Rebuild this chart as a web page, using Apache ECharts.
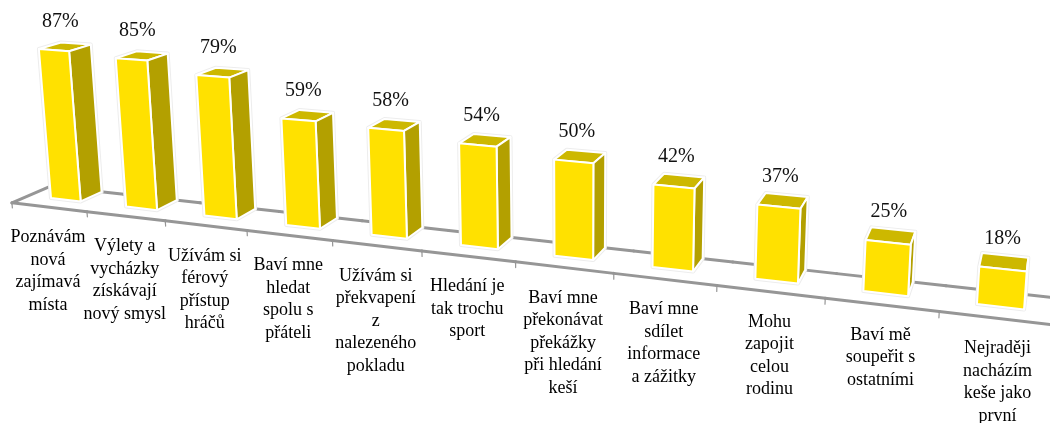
<!DOCTYPE html>
<html>
<head>
<meta charset="utf-8">
<title>Motivace</title>
<script src="https://cdn.jsdelivr.net/npm/echarts@6/dist/echarts.min.js"></script>
<style>
  html, body { margin: 0; padding: 0; background: #fff; }
  #main { width: 1050px; height: 423px; }
</style>
</head>
<body>
<div id="main"></div>
<script>
var categories = [
    'Poznávám\nnová\nzajímavá\nmísta',
    'Výlety a\nvycházky\nzískávají\nnový smysl',
    'Užívám si\nférový\npřístup\nhráčů',
    'Baví mne\nhledat\nspolu s\npřáteli',
    'Užívám si\npřekvapení\nz\nnalezeného\npokladu',
    'Hledání je\ntak trochu\nsport',
    'Baví mne\npřekonávat\npřekážky\npři hledání\nkeší',
    'Baví mne\nsdílet\ninformace\na zážitky',
    'Mohu\nzapojit\ncelou\nrodinu',
    'Baví mě\nsoupeřit s\nostatními',
    'Nejraději\nnacházím\nkeše jako\nprvní'
];
var values = [87, 85, 79, 59, 58, 54, 50, 42, 37, 25, 18];

// depth of the box and of the floor, in projection units
var DEPTH_BACK = 0.021;
var DEPTH_FRONT = -0.016;
var BAR_WIDTH = 0.4;
var SERIF = '"Liberation Serif", "Times New Roman", serif';

// perspective of the tilted 3D chart: (band, value, depth) -> page pixels
function project(u, v, d) {
    var s = u - 0.3;
    var w = 1 - 0.02054 * s - 0.0002575 * v + d;
    var x = 51 + 72.53 * s - 0.14935 * v + 1090 * d;
    var y = 198 + 4.36 * s - 1.7253 * v - 260 * d;
    return [x / w, y / w];
}

// grid position of a data point, in bands and value units
function gridPos(params, api, i, v) {
    var p = api.coord([i, v]);
    var cs = params.coordSys;
    return {
        u: (p[0] - cs.x) / api.size([1, 0])[0],
        v: (cs.y + cs.height - p[1]) / cs.height * 100
    };
}

function face(points, fill) {
    return {
        type: 'polygon',
        shape: { points: points },
        style: { fill: fill, stroke: '#fff', lineWidth: 2, lineJoin: 'round' }
    };
}

function renderFloor(params, api) {
    var i = api.value(0);
    var pos = gridPos(params, api, i, 0);
    var u0 = pos.u - 0.5, u1 = pos.u + 0.5;
    var line = function (a, b, width) {
        return {
            type: 'line',
            shape: { x1: a[0], y1: a[1], x2: b[0], y2: b[1] },
            style: { stroke: '#969696', lineWidth: width, lineCap: 'round' }
        };
    };
    var kids = [
        line(project(u0, 0, DEPTH_BACK), project(u1, 0, DEPTH_BACK), 3),
        line(project(u0, 0, DEPTH_FRONT), project(u1, 0, DEPTH_FRONT), 3),
        line(project(u0, 0, DEPTH_FRONT), project(u0, -3, DEPTH_FRONT), 1.2)
    ];
    if (i === 0) {
        kids.push(line(project(u0, 0, DEPTH_FRONT), project(u0, 0, DEPTH_BACK), 3));
    }
    return { type: 'group', children: kids };
}

function renderBar(params, api) {
    var i = api.value(0);
    var base = gridPos(params, api, i, 0);
    var top = gridPos(params, api, i, api.value(1));
    var l = base.u - BAR_WIDTH / 2, r = base.u + BAR_WIDTH / 2;

    var fbl = project(l, 0, 0), fbr = project(r, 0, 0);
    var ftl = project(l, top.v, 0), ftr = project(r, top.v, 0);
    var bbr = project(r, 0, DEPTH_BACK);
    var btl = project(l, top.v, DEPTH_BACK), btr = project(r, top.v, DEPTH_BACK);

    var labelPos = project(base.u, top.v, 0.007);
    var namePos = project(base.u, 0, DEPTH_FRONT);

    return {
        type: 'group',
        children: [
            {
                type: 'polygon',
                shape: { points: [fbl, ftl, btl, btr, bbr, fbr] },
                style: { fill: '#fff', stroke: '#ededed', lineWidth: 4, lineJoin: 'round' }
            },
            face([ftl, btl, btr, ftr], '#cdb800'),
            face([ftr, btr, bbr, fbr], '#b3a000'),
            face([ftl, ftr, fbr, fbl], '#ffe100'),
            {
                type: 'text',
                style: {
                    text: api.value(1) + '%',
                    x: labelPos[0] - 1,
                    y: labelPos[1] - 26,
                    align: 'center',
                    verticalAlign: 'middle',
                    fontFamily: SERIF,
                    fontSize: 20,
                    fill: '#111'
                }
            },
            {
                type: 'text',
                style: {
                    text: categories[i],
                    x: namePos[0] - 1,
                    y: namePos[1] + 19,
                    align: 'center',
                    verticalAlign: 'top',
                    fontFamily: SERIF,
                    fontSize: 18,
                    lineHeight: 22.5,
                    fill: '#000'
                }
            }
        ]
    };
}

var seriesData = categories.map(function (name, i) {
    return [i, values[i]];
});

var myChart = echarts.init(document.getElementById('main'));

myChart.setOption({
    animation: false,
    backgroundColor: '#fff',
    grid: { left: 0, right: 0, top: 0, bottom: 0 },
    xAxis: { type: 'category', data: categories, show: false },
    yAxis: { type: 'value', min: 0, max: 100, show: false },
    series: [
        { type: 'custom', data: seriesData, clip: false, z: 1, renderItem: renderFloor },
        { type: 'custom', data: seriesData, clip: false, z: 2, renderItem: renderBar }
    ]
});
</script>
</body>
</html>
